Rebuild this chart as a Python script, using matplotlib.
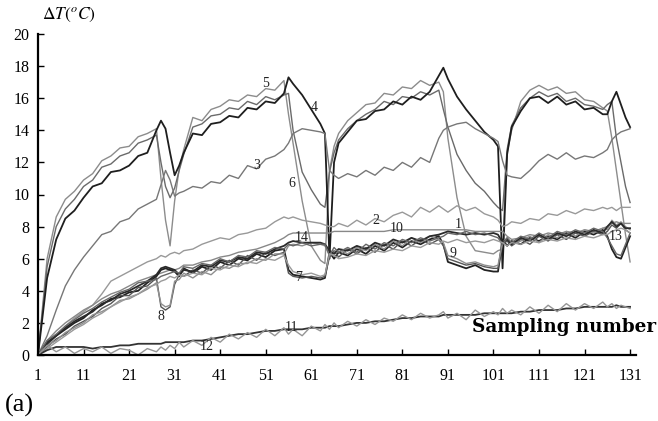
import matplotlib
matplotlib.use("Agg")
import matplotlib.pyplot as plt

plt.rcParams['font.family'] = ['Liberation Serif', 'DejaVu Serif']
plt.rcParams['mathtext.fontset'] = 'stix'

X = [1, 3, 5, 7, 9, 11, 13, 15, 17, 19, 21, 23, 25,
     27, 28, 29, 30, 31, 32, 33,
     35, 37, 39, 41, 43, 45, 47, 49, 51, 53, 55,
     56, 57, 59, 61, 63,
     64, 65, 66, 67,
     69, 71, 73, 75, 77, 79, 81, 83, 85, 87, 89,
     90, 91, 93, 95, 97, 99, 101,
     102, 103, 104, 105,
     107, 109, 111, 113, 115, 117, 119, 121, 123, 125,
     126, 127, 128, 129, 130, 131]

s5 = [0, 6.0, 8.6, 9.7, 10.2, 10.9, 11.3, 12.1, 12.4, 12.9, 13.0, 13.6, 13.8,
      14.1, 11.0, 8.4, 6.8, 9.6, 11.6, 12.8,
      14.8, 14.6, 15.3, 15.5, 15.9, 15.8, 16.2, 16.1, 16.6, 16.5, 17.1,
      15.0, 13.2, 9.6, 6.8, 5.9,
      5.7, 11.5, 13.0, 13.8,
      14.6, 15.1, 15.6, 15.7, 16.3, 16.2, 16.7, 16.6, 17.1, 16.8, 17.0,
      16.4, 13.5, 9.8, 7.4, 6.5, 6.4, 6.3,
      6.5, 6.6, 12.6, 14.0,
      15.8, 16.5, 16.8, 16.5, 16.7, 16.3, 16.4, 15.9, 15.8, 15.4,
      15.2, 13.5, 11.5, 9.5, 7.5, 5.8]

s6 = [0, 5.5, 8.0, 9.1, 9.7, 10.5, 10.9, 11.7, 11.9, 12.4, 12.6, 13.2, 13.4,
      13.7, 12.0, 10.5, 9.8, 10.4, 11.5, 12.5,
      14.2, 14.4, 14.9, 15.0, 15.4, 15.3, 15.8, 15.6, 16.1, 15.9, 16.2,
      16.3, 14.0, 11.4, 10.3, 9.4,
      9.2, 11.4, 12.6, 13.4,
      14.1, 14.6, 15.0, 15.3, 15.8, 15.6, 16.1, 16.0, 16.4, 16.2, 16.5,
      15.3, 14.2, 12.5, 11.5, 10.7, 10.2, 9.5,
      9.2, 9.0, 12.8, 14.3,
      15.4, 16.0, 16.4, 16.1, 16.3, 15.8, 16.0, 15.6, 15.5, 15.3,
      15.6, 15.8, 13.5, 12.0, 10.5, 9.5]

s4 = [0, 4.8, 7.2, 8.5, 9.0, 9.8, 10.5, 10.7, 11.4, 11.5, 11.8, 12.4, 12.6,
      14.0, 14.6, 14.1, 12.6, 11.2, 11.8, 12.6,
      13.8, 13.7, 14.4, 14.5, 14.9, 14.8, 15.4, 15.3, 15.8, 15.7, 16.3,
      17.3, 16.9, 16.2, 15.3, 14.4,
      13.8, 6.0, 12.0, 13.2,
      13.9, 14.6, 14.7, 15.2, 15.3, 15.8, 15.6, 16.1, 15.9, 16.4, 17.4,
      17.9, 17.2, 16.1, 15.3, 14.6, 13.9, 13.4,
      13.0, 5.4, 12.5, 14.2,
      15.2, 16.0, 16.1, 15.7, 16.1, 15.6, 15.8, 15.3, 15.4, 15.0,
      15.0, 15.8, 16.4, 15.6, 14.8, 14.2]

s3 = [0, 1.2, 2.8, 4.3, 5.3, 6.1, 6.8, 7.5, 7.7, 8.3, 8.5, 9.1, 9.4,
      9.7, 10.6, 11.5, 10.9, 9.9, 10.1, 10.2,
      10.5, 10.4, 10.8, 10.7, 11.2, 11.0, 11.8, 11.6, 12.2, 12.4, 12.8,
      13.2, 13.8, 14.1, 14.0, 13.9,
      13.8, 11.5, 11.2, 11.0,
      11.3, 11.1, 11.5, 11.2, 11.7, 11.5, 12.0, 11.7, 12.3, 12.0, 13.5,
      14.0, 14.2, 14.4, 14.5, 14.1, 13.8, 13.5,
      13.3, 12.1, 11.2, 11.1,
      11.0, 11.5, 12.1, 12.5, 12.2, 12.6, 12.2, 12.4, 12.3, 12.6,
      12.8, 13.4, 13.7, 13.9, 14.0, 14.1]

s2 = [0, 0.6, 1.2, 1.8, 2.3, 2.7, 3.1, 3.8, 4.6, 4.9, 5.2, 5.5, 5.8,
      6.0, 6.2, 6.1, 6.3, 6.4, 6.3, 6.5,
      6.6, 6.9, 7.1, 7.3, 7.2, 7.5, 7.6, 7.8, 7.9, 8.3, 8.6,
      8.5, 8.6, 8.4, 8.3, 8.2,
      8.1, 8.0, 8.0, 8.2,
      8.0, 8.4, 8.1, 8.5, 8.3, 8.7, 8.9, 8.6, 9.2, 8.9, 9.3,
      9.1, 8.9, 9.3, 9.0, 9.2, 8.8, 8.6,
      8.4, 8.0, 8.1, 8.3,
      8.2, 8.5, 8.4, 8.8, 8.7, 9.0, 8.8, 9.1, 9.0, 9.2,
      9.1, 9.2, 9.0, 9.2, 9.2, 9.2]

s10 = [0, 0.9, 1.5, 2.0, 2.4, 2.8, 3.1, 3.5, 3.8, 4.0, 4.3, 4.6, 4.8,
       5.0, 5.1, 5.2, 5.3, 5.3, 5.4, 5.6,
       5.6, 5.8, 5.9, 6.1, 6.2, 6.4, 6.5, 6.6, 6.8, 7.0, 7.3,
       7.5, 7.6, 7.6, 7.6, 7.6,
       7.6, 7.6, 7.7, 7.7,
       7.7, 7.7, 7.7, 7.7, 7.7, 7.8, 7.8, 7.8, 7.8, 7.8, 7.8,
       7.8, 7.8, 7.8, 7.8, 7.7, 7.7, 7.7,
       7.7, 7.7, 7.4, 7.2,
       7.3, 7.5, 7.4, 7.6, 7.5, 7.7, 7.6, 7.8, 7.7, 7.9,
       8.0, 8.2, 8.3, 8.2, 8.2, 8.2]

s7 = [0, 0.8, 1.2, 1.6, 2.0, 2.3, 2.8, 3.1, 3.5, 3.6, 3.9, 4.0, 4.5,
      4.9, 5.3, 5.4, 5.3, 5.2, 4.9, 5.4,
      5.1, 5.5, 5.3, 5.8, 5.6, 6.0, 5.9, 6.3, 6.1, 6.5, 6.6,
      5.3, 5.0, 4.9, 4.8, 4.7,
      4.8, 6.4, 6.0, 6.4,
      6.2, 6.6, 6.3, 6.8, 6.5, 7.0, 6.7, 7.1, 6.9, 7.2, 7.4,
      6.9, 5.8, 5.6, 5.4, 5.6, 5.3, 5.2,
      5.2, 7.2, 6.8, 7.1,
      6.9, 7.3, 7.1, 7.4, 7.2, 7.6, 7.3, 7.7, 7.5, 7.8,
      7.4, 6.6, 6.1, 6.0, 6.7, 7.4]

s8 = [0, 0.5, 1.0, 1.3, 1.8, 2.1, 2.4, 2.9, 3.2, 3.7, 3.7, 4.2, 4.3,
      4.8, 3.0, 2.8, 3.0, 4.4, 5.0, 4.9,
      5.3, 5.1, 5.6, 5.4, 5.9, 5.6, 6.2, 5.9, 6.4, 6.2, 6.4,
      5.1, 4.9, 4.8, 4.9, 4.8,
      4.9, 6.1, 6.5, 6.1,
      6.6, 6.3, 6.7, 6.4, 6.9, 6.6, 7.1, 6.8, 7.2, 6.9, 7.2,
      6.8, 6.0, 5.8, 5.6, 5.7, 5.5, 5.4,
      5.4, 6.9, 7.1, 6.8,
      7.2, 6.9, 7.4, 7.1, 7.5, 7.2, 7.6, 7.4, 7.7, 7.5,
      7.7, 8.1, 7.9, 8.2, 7.8, 7.6]

s9 = [0, 0.6, 0.9, 1.4, 1.7, 2.0, 2.5, 2.7, 3.0, 3.4, 3.5, 3.8, 4.1,
      4.5, 3.2, 3.0, 3.1, 4.6, 4.7, 5.1,
      4.8, 5.2, 5.0, 5.5, 5.4, 5.7, 5.7, 6.0, 5.9, 6.3, 6.3,
      6.8, 6.9, 6.8, 7.0, 6.9,
      6.8, 6.2, 6.4, 6.6,
      6.3, 6.7, 6.5, 6.9, 6.6, 7.1, 6.8, 7.3, 7.0, 7.4, 7.2,
      7.0, 6.2, 6.0, 5.7, 5.8, 5.6, 5.5,
      5.6, 7.0, 7.3, 6.9,
      7.1, 7.4, 7.0, 7.5, 7.3, 7.7, 7.4, 7.8, 7.6, 7.9,
      7.8, 8.4, 8.1, 8.3, 8.0, 7.8]

s14 = [0, 0.7, 1.2, 1.7, 2.1, 2.4, 2.7, 3.2, 3.4, 3.8, 4.0, 4.3, 4.6,
       5.0, 5.4, 5.5, 5.4, 5.3, 5.0, 5.3,
       5.2, 5.6, 5.5, 5.9, 5.8, 6.1, 6.0, 6.4, 6.3, 6.6, 6.8,
       7.0, 7.1, 7.0, 7.0, 7.0,
       6.9, 6.5, 6.3, 6.6,
       6.5, 6.8, 6.6, 7.0, 6.8, 7.2, 7.0, 7.3, 7.1, 7.4, 7.5,
       7.6, 7.7, 7.6, 7.5, 7.6, 7.5, 7.6,
       7.5, 7.0, 7.2, 6.9,
       7.3, 7.1, 7.5, 7.2, 7.6, 7.4, 7.7, 7.5, 7.8, 7.6,
       8.0, 8.3, 8.0, 8.2, 7.9, 7.9]

s13 = [0, 0.9, 1.3, 1.8, 2.2, 2.6, 2.9, 3.3, 3.6, 3.9, 4.1, 4.5, 4.6,
       4.7, 4.9, 5.0, 5.1, 5.2, 5.1, 5.5,
       5.4, 5.7, 5.6, 6.0, 5.8, 6.2, 6.1, 6.5, 6.4, 6.7, 6.6,
       6.9, 6.8, 7.0, 6.8, 6.9,
       6.9, 6.2, 6.7, 6.4,
       6.7, 6.4, 6.9, 6.6, 7.0, 6.8, 7.2, 7.0, 7.3, 7.1, 7.3,
       7.4, 7.6, 7.5, 7.7, 7.5, 7.6, 7.4,
       7.3, 6.9, 7.3, 7.0,
       7.4, 7.2, 7.6, 7.3, 7.7, 7.5, 7.8, 7.6, 7.9, 7.7,
       7.3, 6.8, 6.3, 6.2, 6.9, 7.6]

s1 = [0, 0.4, 0.8, 1.2, 1.6, 1.9, 2.3, 2.6, 3.0, 3.3, 3.6, 3.8, 4.2,
      4.4, 4.6, 4.7, 4.9, 4.8, 5.0, 4.9,
      5.1, 5.0, 5.4, 5.3, 5.6, 5.5, 5.8, 5.7, 6.0, 5.9, 6.2,
      5.6, 5.2, 5.0, 5.1, 4.9,
      5.0, 6.3, 6.2, 6.0,
      6.1, 6.3, 6.2, 6.5, 6.4, 6.6, 6.5, 6.8, 6.7, 7.0, 6.9,
      7.1, 7.0, 7.2, 7.0, 7.1, 7.0, 7.2,
      7.1, 7.0, 6.8, 7.0,
      6.9, 7.1, 7.0, 7.2, 7.1, 7.3, 7.2, 7.4, 7.3, 7.5,
      7.5, 7.7, 7.8, 7.9, 7.8, 7.6]

s12 = [0, 0.3, 0.5, 0.5, 0.5, 0.5, 0.4, 0.5, 0.5, 0.6, 0.6, 0.7, 0.7,
       0.7, 0.7, 0.8, 0.8, 0.8, 0.8, 0.8,
       0.9, 0.9, 1.0, 1.1, 1.2, 1.3, 1.3, 1.4, 1.5, 1.5, 1.6,
       1.6, 1.6, 1.6, 1.7, 1.7,
       1.7, 1.8, 1.8, 1.8,
       1.9, 2.0, 2.0, 2.1, 2.1, 2.2, 2.3, 2.3, 2.4, 2.4, 2.4,
       2.5, 2.5, 2.5, 2.5, 2.5, 2.6, 2.6,
       2.6, 2.6, 2.6, 2.6,
       2.7, 2.7, 2.8, 2.8, 2.8, 2.9, 2.9, 3.0, 3.0, 3.0,
       3.0, 3.0, 3.1, 3.0, 3.0, 3.0]

s11 = [0, 0.6, 0.2, 0.5, 0.1, 0.4, 0.2, 0.5, 0.1, 0.4, 0.3, 0.0, 0.4,
       0.2, 0.5, 0.3, 0.6, 0.4, 0.8, 0.5,
       0.9, 0.6, 1.1, 0.8, 1.3, 1.0, 1.4, 1.1, 1.6, 1.2, 1.7,
       1.3, 1.6, 1.2, 1.8, 1.5,
       1.9, 1.6, 2.0, 1.7,
       2.1, 1.8, 2.2, 1.9, 2.3, 2.1, 2.5, 2.2, 2.6, 2.3, 2.5,
       2.7, 2.3, 2.6, 2.2, 2.8, 2.4, 2.7,
       2.5, 2.9, 2.6, 2.8,
       2.5, 3.0, 2.6, 3.1, 2.7, 3.2, 2.8, 3.2, 2.9, 3.3,
       3.0, 3.2, 2.9, 3.1, 3.0, 2.9]

series = [s5, s6, s4, s3, s2, s10, s7, s8, s9, s14, s13, s1, s12, s11]
colors = ['#8c8c8c', '#6a6a6a', '#1e1e1e', '#777777', '#999999', '#888888',
          '#222222', '#555555', '#8f8f8f', '#2a2a2a', '#666666', '#9a9a9a',
          '#333333', '#959595']

lab_txt = ['5', '4', '3', '6', '2', '10', '14', '7', '8', '9', '1', '13', '11', '12']
lab_x = [50.9, 61.6, 49.1, 56.8, 75.2, 79.8, 58.8, 58.3, 28.1, 92.2, 93.3, 127.9, 56.6, 38.0]
lab_y = [16.9, 15.4, 11.8, 10.7, 8.4, 7.9, 7.35, 4.8, 2.4, 6.35, 8.1, 7.4, 1.7, 0.5]

xticks = [1, 11, 21, 31, 41, 51, 61, 71, 81, 91, 101, 111, 121, 131]
yticks = [0, 2, 4, 6, 8, 10, 12, 14, 16, 18, 20]

fig = plt.figure(figsize=(6.58, 4.21), dpi=100)
ax = fig.add_axes([38 / 658, 1 - 355 / 421, 598 / 658, 321 / 421])

for y, c in zip(series, colors):
    lw = 1.3 if c in ('#1e1e1e', '#222222', '#2a2a2a', '#333333') else 1.0
    ax.plot(X, y, color=c, lw=lw)

for t, tx, ty in zip(lab_txt, lab_x, lab_y):
    ax.text(tx, ty, t, fontsize=10, ha='center', va='center', color='#222222')

ax.set_xlim(1, 132.3)
ax.set_ylim(0, 20)
ax.set_xticks(xticks)
ax.set_yticks(yticks)
ax.tick_params(axis='both', direction='in', length=4, width=1, labelsize=11.5)
ax.tick_params(axis='x', pad=9)
ax.tick_params(axis='y', pad=6)
for s in ['top', 'right']:
    ax.spines[s].set_visible(False)
for s in ['left', 'bottom']:
    ax.spines[s].set_linewidth(1.6)

fig.text(42 / 658, 1 - 15 / 421, r'$\Delta T(^{o}C)$', fontsize=12.5, va='center', ha='left')
fig.text(472 / 658, 1 - 327 / 421, 'Sampling number', fontsize=13.2, fontweight='bold',
         family=['DejaVu Serif'], va='center', ha='left')
fig.text(5 / 658, 1 - 405 / 421, '(a)', fontsize=19, va='center', ha='left')

fig.savefig('out.png', dpi=100)
